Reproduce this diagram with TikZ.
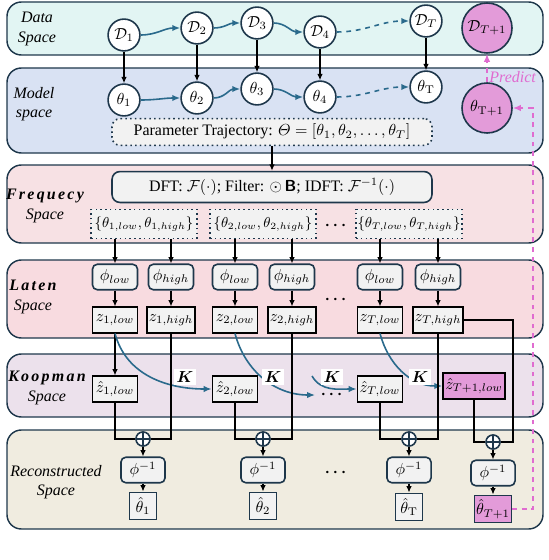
\documentclass[tikz,border=0pt]{standalone}
\usepackage[no-math]{fontspec}
\setmainfont{Liberation Serif}
\usepackage{amsmath,bm}
\usetikzlibrary{arrows.meta,calc}
\definecolor{edge}{RGB}{30,55,75}
\definecolor{datafill}{RGB}{226,245,243}
\definecolor{modelfill}{RGB}{217,226,243}
\definecolor{freqfill}{RGB}{247,225,228}
\definecolor{latfill}{RGB}{248,219,224}
\definecolor{koopfill}{RGB}{236,225,236}
\definecolor{recfill}{RGB}{240,236,224}
\definecolor{orchid}{RGB}{227,155,217}
\definecolor{predpink}{RGB}{224,108,208}
\definecolor{flowblue}{RGB}{42,106,140}
\definecolor{boxgray}{RGB}{242,242,242}
\newcommand{\spacename}[1]{{\bfseries\addfontfeatures{LetterSpace=14}#1}}
\tikzset{
	band/.style={draw=edge,line width=0.9pt,rounded corners=9pt},
	bandlab/.style={align=center,font=\itshape},
	state/.style={circle,draw=edge,line width=1pt,fill=white,minimum size=0.7cm,inner sep=0pt},
	bigstate/.style={state,fill=orchid,minimum size=1.1cm},
	enc/.style={draw=edge,line width=1pt,rounded corners=3pt,fill=boxgray,minimum width=0.99cm,minimum height=0.56cm,inner sep=1pt},
	lat/.style={draw=black,line width=1pt,fill=boxgray,minimum width=0.99cm,minimum height=0.56cm,inner sep=1pt},
	freqbox/.style={draw=edge,dotted,line width=1pt,fill=boxgray,minimum width=2.33cm,minimum height=0.64cm,inner sep=1pt,font=\small},
	opbox/.style={draw=edge,line width=1pt,rounded corners=5pt,fill=boxgray,minimum width=7.04cm},
	addnode/.style={circle,draw=edge,line width=1pt,fill=white,minimum size=0.31cm,inner sep=0pt,
		path picture={\draw[edge,line width=1pt] (path picture bounding box.north) -- (path picture bounding box.south)
			(path picture bounding box.west) -- (path picture bounding box.east);}},
	arr/.style={-{Latex[length=4pt,width=3.5pt]},line width=0.8pt},
	wire/.style={line width=1pt},
	flow/.style={-{Latex[length=5pt,width=4pt]},draw=flowblue,line width=1pt},
	klab/.style={fill=white,inner sep=1.5pt},
	pred/.style={draw=predpink,dashed,line width=1pt,-{Latex[length=5pt,width=4pt]}}
}

\begin{document}
\begin{tikzpicture}[x=0.022cm,y=-0.022cm]
	\useasboundingbox (0,0) rectangle (548,560);
	
	% the six spaces
	\draw[band,fill=datafill] (7,2) rectangle (543,55);
	\draw[band,fill=modelfill] (7,68) rectangle (543,153);
	\draw[band,fill=freqfill] (7,165) rectangle (543,243);
	\draw[band,fill=latfill] (7,260) rectangle (543,338);
	\draw[band,fill=koopfill] (7,354) rectangle (543,417);
	\draw[band,fill=recfill] (7,430) rectangle (543,529);
	
	\node[bandlab] (labdata) at (37,29) {Data\\Space};
	\node[bandlab] (labmodel) at (34,104) {Model\\space};
	\node[bandlab] (labfreq) at (45,206) {\spacename{Frequecy}\\Space};
	\node[bandlab] (lablat) at (33,297) {\spacename{Laten}\\Space};
	\node[bandlab] (labkoop) at (47,388) {\spacename{Koopman}\\Space};
	\node[bandlab] (labrec) at (56,482) {Reconstructed\\Space};
	
	% data and model
	\node[state] (D1) at (124,35) {$\mathcal{D}_1$};
	\node[state] (D2) at (197,28) {$\mathcal{D}_2$};
	\node[state] (D3) at (257,23) {$\mathcal{D}_3$};
	\node[state] (D4) at (320,32) {$\mathcal{D}_4$};
	\node[state] (DT) at (426,21) {$\mathcal{D}_T$};
	\node[bigstate] (DT1) at (487,28) {$\mathcal{D}_{T+1}$};
	
	\node[state] (t1) at (124,100) {$\theta_1$};
	\node[state] (t2) at (197,98) {$\theta_2$};
	\node[state] (t3) at (257,89) {$\theta_3$};
	\node[state] (t4) at (320,97) {$\theta_4$};
	\node[state] (tT) at (426,87) {$\theta_{\mathrm{T}}$};
	\node[bigstate] (tT1) at (487,108) {$\theta_{\mathrm{T+1}}$};
	
	\draw[flow] (D1) to[out=0,in=180] (D2);
	\draw[flow] (D2) to[out=0,in=180] (D3);
	\draw[flow] (D3) to[out=0,in=180] (D4);
	\draw[flow,dashed] (D4) to[out=0,in=180] (DT);
	\draw[flow] (t1) to[out=0,in=180] (t2);
	\draw[flow] (t2) to[out=0,in=180] (t3);
	\draw[flow] (t3) to[out=0,in=180] (t4);
	\draw[flow,dashed] (t4) to[out=0,in=180] (tT);
	
	\draw[arr] (D1) -- (t1);
	\draw[arr] (D2) -- (t2);
	\draw[arr] (D3) -- (t3);
	\draw[arr] (D4) -- (t4);
	\draw[arr] (DT) -- (tT);
	
	\node[opbox,dotted,minimum height=0.57cm] (traj) at (272,132) {Parameter Trajectory: $\varTheta=[\theta_1,\theta_2,\dots,\theta_T]$};
	
	% frequency
	\node[opbox,minimum height=0.68cm] (dft) at (272,187) {DFT: $\mathcal{F}(\cdot)$;\ Filter: $\odot$\,\textsf{\textbf{B}};\ IDFT: $\mathcal{F}^{-1}(\cdot)$};
	\draw[arr] (traj) -- (dft);
	
	\node[freqbox] (fb1) at (144,224) {$\{\theta_{1,low},\theta_{1,high}\}$};
	\node[freqbox] (fb2) at (263,224) {$\{\theta_{2,low},\theta_{2,high}\}$};
	\node (fdots) at (337,226) {$\bm{\cdots}$};
	\node[freqbox] (fbT) at (409,224) {$\{\theta_{T,low},\theta_{T,high}\}$};
	
	% latent
	\node[enc] (pl1) at (115,277) {$\phi_{low}$};
	\node[enc] (ph1) at (171,277) {$\phi_{high}$};
	\node[enc] (pl2) at (235,277) {$\phi_{low}$};
	\node[enc] (ph2) at (292,277) {$\phi_{high}$};
	\node (ldots) at (337,300) {$\bm{\cdots}$};
	\node[enc] (plT) at (380,277) {$\phi_{low}$};
	\node[enc] (phT) at (438,277) {$\phi_{high}$};
	
	\foreach \f/\p in {fb1/pl1,fb1/ph1,fb2/pl2,fb2/ph2,fbT/plT,fbT/phT}
		\draw[arr] (\f.south -| \p) -- (\p);
	
	\node[lat] (zl1) at (115,320) {$z_{1,low}$};
	\node[lat] (zh1) at (171,320) {$z_{1,high}$};
	\node[lat] (zl2) at (235,320) {$z_{2,low}$};
	\node[lat] (zh2) at (292,320) {$z_{2,high}$};
	\node[lat] (zlT) at (380,320) {$z_{T,low}$};
	\node[lat] (zhT) at (438,320) {$z_{T,high}$};
	
	\foreach \p/\z in {pl1/zl1,ph1/zh1,pl2/zl2,ph2/zh2,plT/zlT,phT/zhT}
		\draw[arr] (\p) -- (\z);
	
	% koopman
	\node[lat] (kz1) at (115,389) {$\hat{z}_{1,low}$};
	\node[lat] (kz2) at (235,389) {$\hat{z}_{2,low}$};
	\node (kdots) at (333,395) {$\bm{\cdots}$};
	\node[lat] (kzT) at (380,389) {$\hat{z}_{T,low}$};
	\node[lat,fill=orchid,minimum width=1.36cm] (kzT1) at (474,386) {$\hat{z}_{T+1,low}$};
	\coordinate (kin) at (312,376);
	
	\draw[arr] (zl1) -- (kz1);
	\draw[flow] (zl1.south) to[out=-75,in=180] (kz2.west);
	\draw[flow] (zl2.south) to[out=-75,in=180] (kdots.west);
	\draw[flow] (kin) to[out=-60,in=180] (kzT.west);
	\draw[flow] (zlT.south) to[out=-75,in=180] (kzT1.west);
	\node[klab] (k1) at (185,377) {$\bm{K}$};
	\node[klab] (k2) at (273,377) {$\bm{K}$};
	\node[klab] (k3) at (332,377) {$\bm{K}$};
	\node[klab] (k4) at (420,377) {$\bm{K}$};
	
	% reconstruction
	\node[addnode] (add1) at (143,439) {};
	\node[addnode] (add2) at (263,439) {};
	\node[addnode] (add3) at (409,439) {};
	\node[addnode] (add4) at (493,442) {};
	\coordinate (bend) at (513,320);
	
	\draw[wire] (kz1.south) |- (add1.west);
	\draw[wire] (zh1.south) |- (add1.east);
	\draw[wire] (kz2.south) |- (add2.west);
	\draw[wire] (zh2.south) |- (add2.east);
	\draw[wire] (kzT.south) |- (add3.west);
	\draw[wire] (zhT.south) |- (add3.east);
	\draw[wire] (kzT1.south) |- (add4.west);
	\draw[wire] (zhT.east) -- (bend) |- (add4.east);
	
	\node[enc,minimum width=0.97cm] (inv1) at (143,470) {$\phi^{-1}$};
	\node[enc,minimum width=0.97cm] (inv2) at (263,470) {$\phi^{-1}$};
	\node (rdots) at (337,473) {$\bm{\cdots}$};
	\node[enc,minimum width=0.97cm] (invT) at (409,470) {$\phi^{-1}$};
	\node[enc,minimum width=0.97cm] (invT1) at (493,473) {$\phi^{-1}$};
	
	\node[lat,draw=edge,minimum width=0.6cm,minimum height=0.6cm] (rh1) at (143,506) {$\hat{\theta}_1$};
	\node[lat,draw=edge,minimum width=0.6cm,minimum height=0.6cm] (rh2) at (263,506) {$\hat{\theta}_2$};
	\node[lat,draw=edge,minimum width=0.6cm,minimum height=0.6cm] (rhT) at (409,507) {$\hat{\theta}_{\mathrm{T}}$};
	\node[lat,draw=edge,fill=orchid,minimum width=0.6cm,minimum height=0.6cm] (rhT1) at (493,509) {$\hat{\theta}_{T+1}$};
	
	\foreach \a/\i/\r in {add1/inv1/rh1,add2/inv2/rh2,add3/invT/rhT,add4/invT1/rhT1}{
		\draw[arr] (\a) -- (\i);
		\draw[arr] (\i) -- (\r);
	}
	
	% prediction loop
	\coordinate (back) at (533,300);
	\draw[pred] (rhT1.east) -| (back) |- (tT1.east);
	\draw[pred] (tT1) -- (DT1) node[pos=0.17,anchor=west,inner sep=1pt,text=predpink,font=\itshape] (predlab) {Predict};
\end{tikzpicture}
\end{document}
